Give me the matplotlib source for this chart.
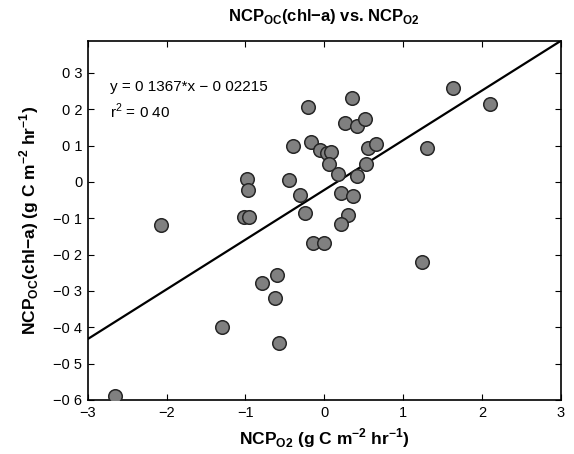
import matplotlib.pyplot as plt
import numpy as np

plt.rcParams['font.family'] = ['Liberation Sans', 'DejaVu Sans']
plt.rcParams['mathtext.fontset'] = 'custom'
plt.rcParams['mathtext.rm'] = 'Liberation Sans'
plt.rcParams['mathtext.bf'] = 'Liberation Sans:bold'

# data
ncp_o2 = [-0.21, 0.35, 0.26, 0.41, 0.52, 1.63, 2.10, -0.40, -0.17, -0.06,
          0.03, 0.09, 0.06, 0.55, 0.65, 1.30, 0.53, 0.18, 0.42, -0.98,
          -0.97, -0.45, -0.31, 0.21, 0.37, -0.25, 0.30, 0.21, -1.02, -0.95,
          -2.07, -0.14, -0.01, -0.60, -0.79, -0.63, -1.30, -0.58, -2.65, 1.24]
ncp_oc = [0.206, 0.232, 0.162, 0.155, 0.174, 0.257, 0.214, 0.100, 0.109, 0.088,
          0.080, 0.082, 0.050, 0.093, 0.104, 0.092, 0.050, 0.022, 0.015, 0.008,
          -0.022, 0.004, -0.036, -0.031, -0.040, -0.085, -0.091, -0.117, -0.097, -0.097,
          -0.118, -0.168, -0.168, -0.256, -0.279, -0.319, -0.399, -0.443, -0.589, -0.220]

slope = 0.1367
intercept = -0.02215
r2 = 0.40

fig = plt.figure(figsize=(5.74, 4.54), dpi=100)
ax = fig.add_axes([0.153, 0.119, 0.824, 0.791])

ax.scatter(ncp_o2, ncp_oc, s=95, c='#808080', edgecolors='#262626',
           linewidths=1.1, zorder=3)

xfit = np.array([-3, 3])
ax.plot(xfit, slope * xfit + intercept, color='black', lw=1.6, zorder=2)

ax.set_xlim(-3, 3)
ax.set_ylim(-0.6, slope * 3 + intercept)
ax.set_xticks([-3, -2, -1, 0, 1, 2, 3])
ax.set_xticklabels(['\u22123', '\u22122', '\u22121', '0', '1', '2', '3'])
yt = [-0.6, -0.5, -0.4, -0.3, -0.2, -0.1, 0, 0.1, 0.2, 0.3]
ax.set_yticks(yt)
ax.set_yticklabels(['\u22120 6', '\u22120 5', '\u22120 4', '\u22120 3', '\u22120 2',
                    '\u22120 1', '0', '0 1', '0 2', '0 3'])
ax.tick_params(direction='in', top=True, right=True, labelsize=10.5, length=4, pad=4)
for sp in ax.spines.values():
    sp.set_linewidth(1.2)

ax.text(-2.72, 0.262, 'y = 0 1367*x \u2212 0 02215', fontsize=11, va='center')
ax.text(-2.72, 0.193, 'r$^2$ = 0 40', fontsize=11, va='center')

dash = '\u2212'
ax.set_title(r'NCP$_{\mathbf{OC}}$(chl' + dash + r'a) vs. NCP$_{\mathbf{O2}}$',
             fontsize=12, fontweight='bold', pad=14)
ax.set_xlabel(r'NCP$_{\mathbf{O2}}$ (g C m$^{\mathbf{-2}}$ hr$^{\mathbf{-1}}$)',
              fontsize=12.5, fontweight='bold', labelpad=5)
ax.set_ylabel(r'NCP$_{\mathbf{OC}}$(chl' + dash + r'a) (g C m$^{\mathbf{-2}}$ hr$^{\mathbf{-1}}$)',
              fontsize=12.5, fontweight='bold', labelpad=9)

fig.savefig('out.png', dpi=100)
